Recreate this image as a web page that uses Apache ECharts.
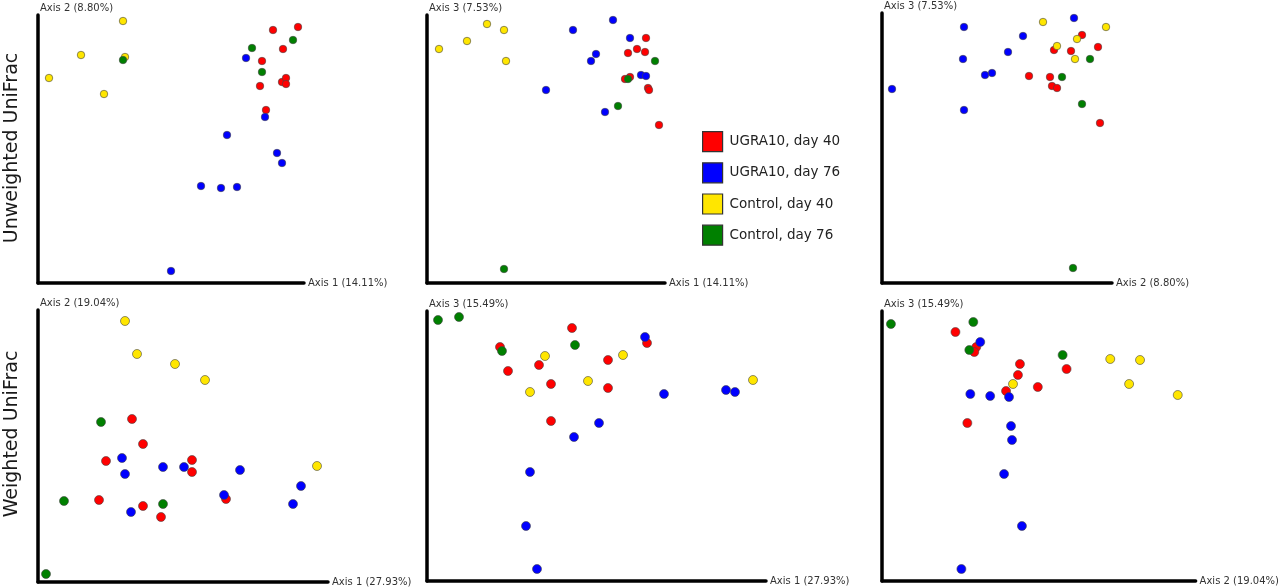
<!DOCTYPE html>
<html>
<head>
<meta charset="utf-8">
<script src="https://cdn.jsdelivr.net/npm/echarts@6/dist/echarts.min.js"></script>
<style>
  html, body { margin: 0; padding: 0; background: #fff; }
  #chart { width: 1280px; height: 587px; }
</style>
</head>
<body>
<div id="chart"></div>
<script>
const groups = ["UGRA10, day 40", "UGRA10, day 76", "Control, day 40", "Control, day 76"];
const groupColors = ["#ff0000", "#0000ff", "#ffe600", "#008000"];
const rowLabels = ["Unweighted UniFrac", "Weighted UniFrac"];

// axis titles per panel: [x name, y name]
const panelAxes = [
  ["Axis 1 (14.11%)", "Axis 2 (8.80%)"],
  ["Axis 1 (14.11%)", "Axis 3 (7.53%)"],
  ["Axis 2 (8.80%)", "Axis 3 (7.53%)"],
  ["Axis 1 (27.93%)", "Axis 2 (19.04%)"],
  ["Axis 1 (27.93%)", "Axis 3 (15.49%)"],
  ["Axis 2 (19.04%)", "Axis 3 (15.49%)"]
];

// --- Unweighted UniFrac, Axis 1 vs Axis 2
const uw12Red = [[235,253],[260,256],[245,234],[224,222],[244,201],[248,205],[248,199],[222,197],[228,173]];
const uw12Blue = [[208,225],[227,166],[189,148],[239,130],[244,120],[163,97],[183,95],[199,96],[133,12]];
const uw12Yellow = [[85,262],[43,228],[11,205],[66,189],[87,226]];
const uw12Green = [[214,235],[255,243],[224,211],[85,223]];

// --- Unweighted UniFrac, Axis 1 vs Axis 3
const uw13Red = [[219,245],[201,230],[210,234],[218,231],[198,204],[203,206],[221,195],[222,193],[232,158]];
const uw13Blue = [[146,253],[186,263],[203,245],[169,229],[164,222],[214,208],[219,207],[119,193],[178,171]];
const uw13Yellow = [[12,234],[40,242],[60,259],[77,253],[79,222]];
const uw13Green = [[228,222],[201,204],[191,177],[77,14]];

// --- Unweighted UniFrac, Axis 2 vs Axis 3
const uw23Red = [[200,248],[216,236],[172,233],[189,232],[147,207],[168,206],[170,197],[175,195],[218,160]];
const uw23Blue = [[192,265],[82,256],[141,247],[126,231],[81,224],[103,208],[110,210],[10,194],[82,173]];
const uw23Yellow = [[161,261],[224,256],[195,244],[175,237],[193,224]];
const uw23Green = [[208,224],[180,206],[200,179],[191,15]];

// --- Weighted UniFrac, Axis 1 vs Axis 2
const w12Red = [[94,163],[105,138],[68,121],[154,122],[154,110],[61,82],[105,76],[123,65],[188,83]];
const w12Blue = [[84,124],[87,108],[125,115],[146,115],[202,112],[186,87],[263,96],[255,78],[93,70]];
const w12Yellow = [[87,261],[99,228],[137,218],[167,202],[279,116]];
const w12Green = [[63,160],[26,81],[125,78],[8,8]];

// --- Weighted UniFrac, Axis 1 vs Axis 3
const w13Red = [[73,234],[145,253],[81,210],[112,216],[124,197],[181,221],[181,193],[124,160],[220,238]];
const w13Blue = [[218,244],[237,187],[299,191],[308,189],[172,158],[147,144],[103,109],[99,55],[110,12]];
const w13Yellow = [[118,225],[103,189],[161,200],[196,226],[326,201]];
const w13Green = [[11,261],[32,264],[75,230],[148,236]];

// --- Weighted UniFrac, Axis 2 vs Axis 3
const w23Red = [[74,249],[95,234],[93,229],[139,217],[137,206],[125,190],[157,194],[186,212],[86,158]];
const w23Blue = [[99,239],[89,187],[109,185],[128,184],[130,155],[131,141],[123,107],[141,55],[80,12]];
const w23Yellow = [[132,197],[230,222],[260,221],[249,197],[298,186]];
const w23Green = [[9,257],[92,259],[88,231],[182,226]];

const panelData = [
  [uw12Red, uw12Blue, uw12Yellow, uw12Green],
  [uw13Red, uw13Blue, uw13Yellow, uw13Green],
  [uw23Red, uw23Blue, uw23Yellow, uw23Green],
  [w12Red, w12Blue, w12Yellow, w12Green],
  [w13Red, w13Blue, w13Yellow, w13Green],
  [w23Red, w23Blue, w23Yellow, w23Green]
];

// panel boxes: left, top, width, height (axis extents)
const panelBoxes = [
  [38, 15, 266, 268],
  [427, 15, 238, 268],
  [882, 13, 230, 270],
  [38, 310, 290, 272],
  [427, 311, 339, 270],
  [882, 311, 316, 270]
];

const chart = echarts.init(document.getElementById("chart"));

const grids = [], xAxes = [], yAxes = [], series = [];
const axisLine = { show: true, onZero: false, lineStyle: { color: "#000", width: 3.5 } };
const nameStyle = { fontFamily: "DejaVu Sans", fontSize: 10, color: "#333" };

panelBoxes.forEach((b, p) => {
  grids.push({ left: b[0], top: b[1], width: b[2], height: b[3] });
  xAxes.push({
    type: "value", gridIndex: p, min: 0, max: b[2],
    axisLine, axisTick: { show: false }, axisLabel: { show: false }, splitLine: { show: false },
    name: panelAxes[p][0], nameLocation: "end", nameGap: 4,
    nameTextStyle: { ...nameStyle, align: "left", verticalAlign: "middle", padding: [0, 0, 6, 0] }
  });
  yAxes.push({
    type: "value", gridIndex: p, min: 0, max: b[3],
    axisLine, axisTick: { show: false }, axisLabel: { show: false }, splitLine: { show: false },
    name: panelAxes[p][1], nameLocation: "end", nameGap: 7,
    nameTextStyle: { ...nameStyle, align: "left", verticalAlign: "middle", padding: [0, 0, 0, 2] }
  });
  panelData[p].forEach((pts, g) => {
    series.push({
      name: groups[g],
      type: "scatter",
      xAxisIndex: p,
      yAxisIndex: p,
      symbolSize: p < 3 ? 7.5 : 9,
      data: pts,
      itemStyle: { color: groupColors[g], borderColor: "#444", borderWidth: 0.6, opacity: 1 },
      emphasis: { disabled: true }
    });
  });
});

chart.setOption({
  animation: false,
  backgroundColor: "#fff",
  grid: grids,
  xAxis: xAxes,
  yAxis: yAxes,
  legend: {
    data: groups,
    orient: "vertical",
    left: 702,
    top: 131,
    padding: 0,
    itemWidth: 20,
    itemHeight: 20,
    itemGap: 10,
    icon: "rect",
    itemStyle: { borderColor: "#333", borderWidth: 1.2 },
    textStyle: { fontFamily: "DejaVu Sans", fontSize: 13.5, color: "#222", padding: [0, 0, 0, 2] }
  },
  graphic: rowLabels.map((t, i) => ({
    type: "text",
    x: 12,
    y: i === 0 ? 148 : 434,
    rotation: Math.PI / 2,
    style: {
      text: t,
      fontFamily: "DejaVu Sans",
      fontSize: 19,
      fill: "#1a1a1a",
      align: "center",
      verticalAlign: "middle"
    }
  })),
  series
});
</script>
</body>
</html>
